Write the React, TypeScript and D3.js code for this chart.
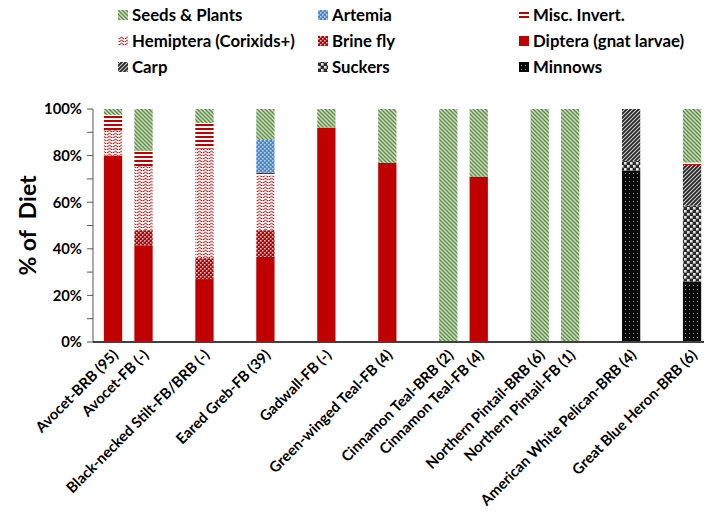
import React from 'react';
import * as d3 from 'd3';

// slots, blanks are the empty gaps between groups
const categories = [
  'Avocet-BRB (95)', 'Avocet-FB (-)', '', 'Black-necked Stilt-FB/BRB (-)', '',
  'Eared Greb-FB (39)', '', 'Gadwall-FB (-)', '', 'Green-winged Teal-FB (4)', '',
  'Cinnamon Teal-BRB (2)', 'Cinnamon Teal-FB (4)', '', 'Northern Pintail-BRB (6)',
  'Northern Pintail-FB (1)', '', 'American White Pelican-BRB (4)', '', 'Great Blue Heron-BRB (6)',
];

const minnows = [0, 0, 0, 0, 0, 0, 0, 0, 0, 0, 0, 0, 0, 0, 0, 0, 0, 73.5, 0, 26];
const suckers = [0, 0, 0, 0, 0, 0, 0, 0, 0, 0, 0, 0, 0, 0, 0, 0, 0, 4.2, 0, 32.5];
const carp = [0, 0, 0, 0, 0, 0, 0, 0, 0, 0, 0, 0, 0, 0, 0, 0, 0, 22.3, 0, 17.5];
const diptera = [80, 41.5, 0, 27, 0, 36.5, 0, 92, 0, 77, 0, 0, 71, 0, 0, 0, 0, 0, 0, 0];
const brineFly = [0, 6.5, 0, 9, 0, 11.5, 0, 0, 0, 0, 0, 0, 0, 0, 0, 0, 0, 0, 0, 0];
const hemiptera = [11, 27.5, 0, 47, 0, 23.5, 0, 0, 0, 0, 0, 0, 0, 0, 0, 0, 0, 0, 0, 0];
const miscInvert = [6.5, 6.5, 0, 11, 0, 1.2, 0, 0, 0, 0, 0, 0, 0, 0, 0, 0, 0, 0, 0, 1];
const artemia = [0, 0, 0, 0, 0, 14, 0, 0, 0, 0, 0, 0, 0, 0, 0, 0, 0, 0, 0, 0];
const seeds = [2.5, 18, 0, 6, 0, 13.3, 0, 8, 0, 23, 0, 100, 29, 0, 100, 100, 0, 0, 0, 23];

const yTicks = [0, 20, 40, 60, 80, 100];
const yMinor = [10, 30, 50, 70, 90];

// bottom to top stacking order
const series = [
  { key: 'minnows', name: 'Minnows', values: minnows },
  { key: 'suckers', name: 'Suckers', values: suckers },
  { key: 'carp', name: 'Carp', values: carp },
  { key: 'diptera', name: 'Diptera (gnat larvae)', values: diptera },
  { key: 'brine', name: 'Brine fly', values: brineFly },
  { key: 'hemiptera', name: 'Hemiptera (Corixids+)', values: hemiptera },
  { key: 'misc', name: 'Misc. Invert.', values: miscInvert },
  { key: 'artemia', name: 'Artemia', values: artemia },
  { key: 'seeds', name: 'Seeds & Plants', values: seeds },
];

// legend reading order (3 columns)
const legendOrder = ['seeds', 'artemia', 'misc', 'hemiptera', 'brine', 'diptera', 'carp', 'suckers', 'minnows'];

const font = 'Lato, "Open Sans", sans-serif';

const Patterns = () => (
  <defs>
    <pattern id="p-seeds" patternUnits="userSpaceOnUse" width="4" height="4">
      <rect width="4" height="4" fill="#cadcbc" />
      <path d="M-1,-1 L5,5 M-1,3 L1,5 M3,-1 L5,1" stroke="#5f8b4a" strokeWidth="1.3" />
    </pattern>
    <pattern id="p-artemia" patternUnits="userSpaceOnUse" width="4" height="4">
      <rect width="4" height="4" fill="#4a88cb" />
      <rect x="0" y="0" width="1.6" height="1.6" fill="#b3d0ef" />
      <rect x="2" y="2" width="1.6" height="1.6" fill="#b3d0ef" />
    </pattern>
    <pattern id="p-misc" patternUnits="userSpaceOnUse" width="4" height="4">
      <rect width="4" height="4" fill="#ffffff" />
      <rect y="0" width="4" height="2" fill="#c00000" />
    </pattern>
    <pattern id="p-hemiptera" patternUnits="userSpaceOnUse" width="6" height="3">
      <rect width="6" height="3" fill="#fdf0f0" />
      <path d="M0,2.2 Q1.5,0.4 3,2.2 T6,2.2" fill="none" stroke="#c00000" strokeWidth="0.9" />
    </pattern>
    <pattern id="p-brine" patternUnits="userSpaceOnUse" width="4" height="4">
      <rect width="4" height="4" fill="#c00000" />
      <rect x="0" y="0" width="1.5" height="1.5" fill="#f3c9c9" />
      <rect x="2" y="2" width="1.5" height="1.5" fill="#f3c9c9" />
    </pattern>
    <pattern id="p-carp" patternUnits="userSpaceOnUse" width="4" height="4">
      <rect width="4" height="4" fill="#c8c8c8" />
      <path d="M-1,5 L5,-1 M-1,1 L1,-1 M3,5 L5,3" stroke="#222222" strokeWidth="1.6" />
    </pattern>
    <pattern id="p-suckers" patternUnits="userSpaceOnUse" width="6" height="6">
      <rect width="6" height="6" fill="#2a2a2a" />
      <rect x="0" y="0" width="2.6" height="2.6" fill="#e6e6e6" />
      <rect x="3" y="3" width="2.6" height="2.6" fill="#e6e6e6" />
    </pattern>
    <pattern id="p-minnows" patternUnits="userSpaceOnUse" width="4" height="4">
      <rect width="4" height="4" fill="#0a0a0a" />
      <rect x="1" y="1" width="1" height="1" fill="#9a9a9a" />
    </pattern>
  </defs>
);

const fillFor = (key: string) => (key === 'diptera' ? '#c00000' : `url(#p-${key})`);

export default function App() {
  const width = 704;
  const height = 514;
  const left = 97.8;
  const axisX = 93;
  const y0 = 342;
  const y1 = 109;

  const idx = categories.map((_, i) => i);
  const x = d3.scaleBand<number>().domain(idx).range([left, left + 609.5]).paddingInner(0.4).paddingOuter(0.2);
  const y = d3.scaleLinear().domain([0, 100]).range([y0, y1]);

  const rows = idx.map((i) => {
    const r: any = { i };
    series.forEach((s) => (r[s.key] = s.values[i]));
    return r;
  });
  const stacked = d3.stack<any>().keys(series.map((s) => s.key))(rows);

  const legendX = [118, 318, 519];
  const legendY = [15, 41, 67];

  return (
    <svg width={width} height={height} style={{ position: 'absolute', left: 0, top: 0 }}>
      <Patterns />
      <rect width={width} height={height} fill="#ffffff" />

      {/* legend */}
      {legendOrder.map((k, n) => {
        const s = series.find((d) => d.key === k)!;
        const lx = legendX[n % 3];
        const ly = legendY[Math.floor(n / 3)];
        return (
          <g key={k}>
            <rect x={lx} y={ly - 5} width={10} height={10} fill={fillFor(k)} />
            <text x={lx + 14} y={ly} dy="0.36em" fontFamily={font} fontWeight="bold" fontSize={16.8} fill="#000">
              {s.name}
            </text>
          </g>
        );
      })}

      {/* bars */}
      {stacked.map((layer) => (
        <g key={layer.key} fill={fillFor(layer.key)}>
          {layer.map((d, i) =>
            d[1] - d[0] > 0 ? (
              <rect key={i} x={x(i)} width={x.bandwidth()} y={y(d[1])} height={y(d[0]) - y(d[1])} />
            ) : null
          )}
        </g>
      ))}

      {/* y axis */}
      <line x1={axisX} x2={axisX} y1={y1} y2={y0} stroke="#595959" strokeWidth={1} />
      {yTicks.concat(yMinor).map((t) => (
        <line key={t} x1={axisX - 6} x2={axisX} y1={y(t)} y2={y(t)} stroke="#595959" strokeWidth={1} />
      ))}
      {yTicks.map((t) => (
        <text key={t} x={axisX - 11} y={y(t)} dy="0.36em" textAnchor="end" fontFamily={font} fontWeight="bold" fontSize={14.8}>
          {t}%
        </text>
      ))}
      <text
        transform={`translate(36,${(y0 + y1) / 2}) rotate(-90)`}
        textAnchor="middle"
        fontFamily={font}
        fontWeight="bold"
        fontSize={23}
        style={{ whiteSpace: 'pre' }}
      >
        {'% of  Diet'}
      </text>

      {/* x axis */}
      <line x1={axisX} x2={704} y1={y0} y2={y0} stroke="#404040" strokeWidth={2} />
      {categories.map((c, i) =>
        c ? (
          <text
            key={i}
            transform={`translate(${x(i)! + x.bandwidth() / 2 + 6},${y0 + 14}) rotate(-45)`}
            textAnchor="end"
            fontFamily={font}
            fontWeight="bold"
            fontSize={14.8}
          >
            {c}
          </text>
        ) : null
      )}
    </svg>
  );
}
